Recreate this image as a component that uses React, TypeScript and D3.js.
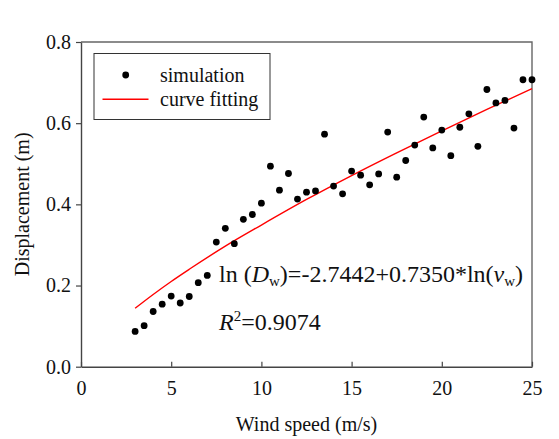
import React, { useEffect, useRef } from 'react';
import * as d3 from 'd3';

// simulation points (wind speed m/s, displacement m)
const windSpeed = [
  3, 3.5, 4, 4.5, 5, 5.5, 6, 6.5, 7, 7.5, 8, 8.5, 9, 9.5, 10, 10.5, 11, 11.5, 12, 12.5,
  13, 13.5, 14, 14.5, 15, 15.5, 16, 16.5, 17, 17.5, 18, 18.5, 19, 19.5, 20, 20.5, 21, 21.5,
  22, 22.5, 23, 23.5, 24, 24.5, 25,
];
const displacement = [
  0.087, 0.101, 0.136, 0.154, 0.174, 0.157, 0.173, 0.207, 0.225, 0.307, 0.341, 0.303, 0.363,
  0.375, 0.403, 0.494, 0.435, 0.476, 0.413, 0.43, 0.433, 0.573, 0.445, 0.426, 0.482, 0.472,
  0.448, 0.475, 0.578, 0.467, 0.508, 0.546, 0.615, 0.539, 0.583, 0.52, 0.59, 0.623, 0.543,
  0.683, 0.65, 0.656, 0.588, 0.707, 0.707,
];

// fitted curve
const fitSpeed = [3, 4, 5, 6, 8, 10, 12.5, 15, 17.5, 20, 22.5, 25];
const fitDisp = [0.144, 0.178, 0.21, 0.24, 0.297, 0.349, 0.412, 0.471, 0.527, 0.581, 0.634, 0.685];

const xTicks = [0, 5, 10, 15, 20, 25];
const yTicks = [0, 0.2, 0.4, 0.6, 0.8];

const FONT = '"Liberation Serif", "Times New Roman", serif';

export default function App() {
  const ref = useRef<SVGSVGElement>(null);

  useEffect(() => {
    const svg = d3.select(ref.current);
    svg.selectAll('*').remove();

    const left = 81, right = 532, top = 42, bottom = 366.7;
    const x = d3.scaleLinear().domain([0, 25]).range([left, right]);
    const y = d3.scaleLinear().domain([0, 0.8]).range([bottom, top]);

    svg.append('rect').attr('width', 559).attr('height', 439).attr('fill', '#fff');

    // frame top / right
    svg.append('path')
      .attr('d', `M${left},${top}H${right}V${bottom}`)
      .attr('fill', 'none').attr('stroke', '#666').attr('stroke-width', 1.4);

    const xAxis = svg.append('g')
      .attr('transform', `translate(0,${bottom})`)
      .call(d3.axisBottom(x).tickValues(xTicks).tickSizeInner(-5).tickSizeOuter(0).tickPadding(14).tickFormat(d3.format('d')));
    const yAxis = svg.append('g')
      .attr('transform', `translate(${left},0)`)
      .call(d3.axisLeft(y).tickValues(yTicks).tickSize(5).tickSizeOuter(0).tickPadding(5).tickFormat(d3.format('.1f')));

    [xAxis, yAxis].forEach(g => {
      g.attr('font-family', FONT).attr('font-size', 20);
      g.select('.domain').attr('stroke', '#444').attr('stroke-width', 1.4);
      g.selectAll('.tick line').attr('stroke', '#444').attr('stroke-width', 1.2);
      g.selectAll('.tick text').attr('fill', '#111').style('font-family', FONT).style('font-size', '20px');
    });

    // fitted curve
    const line = d3.line<number>()
      .x((_, i) => x(fitSpeed[i]))
      .y(d => y(d))
      .curve(d3.curveMonotoneX);
    svg.append('path')
      .datum(fitDisp)
      .attr('d', line)
      .attr('fill', 'none')
      .attr('stroke', '#f00')
      .attr('stroke-width', 1.4);

    // points
    svg.append('g').selectAll('circle')
      .data(displacement)
      .enter()
      .append('circle')
      .attr('cx', (_, i) => x(windSpeed[i]))
      .attr('cy', d => y(d))
      .attr('r', 3.4)
      .attr('fill', '#000');

    // legend
    const lg = svg.append('g');
    lg.append('rect')
      .attr('x', 94).attr('y', 53.5).attr('width', 176).attr('height', 66)
      .attr('fill', '#fff').attr('stroke', '#333').attr('stroke-width', 1);
    lg.append('circle').attr('cx', 125.7).attr('cy', 75).attr('r', 3.4).attr('fill', '#000');
    lg.append('line').attr('x1', 102.5).attr('x2', 148.5).attr('y1', 99.3).attr('y2', 99.3)
      .attr('stroke', '#f00').attr('stroke-width', 1.4);
    const lgText = [['simulation', 81.5], ['curve fitting', 105.5]] as const;
    lgText.forEach(([t, yy]) => {
      lg.append('text').attr('x', 160).attr('y', yy).text(t)
        .attr('fill', '#111').style('font-family', FONT).style('font-size', '20px');
    });

    // axis titles
    svg.append('text')
      .attr('transform', `translate(29,${(top + bottom) / 2}) rotate(-90)`)
      .attr('text-anchor', 'middle')
      .attr('fill', '#111').style('font-family', FONT).style('font-size', '20px')
      .text('Displacement (m)');
    svg.append('text')
      .attr('x', (left + right) / 2).attr('y', 430.5)
      .attr('text-anchor', 'middle')
      .attr('fill', '#111').style('font-family', FONT).style('font-size', '20px')
      .text('Wind speed (m/s)');

    // equation
    const eq = svg.append('text').attr('x', 219).attr('y', 281.5)
      .attr('fill', '#111').style('font-family', FONT).style('font-size', '24px');
    eq.append('tspan').text('ln (');
    eq.append('tspan').attr('font-style', 'italic').text('D');
    eq.append('tspan').attr('font-size', '15px').attr('dy', 4).text('w');
    eq.append('tspan').attr('dy', -4).text(')=-2.7442+0.7350*ln(');
    eq.append('tspan').attr('font-style', 'italic').text('v');
    eq.append('tspan').attr('font-size', '15px').attr('dy', 4).text('w');
    eq.append('tspan').attr('dy', -4).text(')');

    const r2 = svg.append('text').attr('x', 219).attr('y', 330)
      .attr('fill', '#111').style('font-family', FONT).style('font-size', '24px');
    r2.append('tspan').attr('font-style', 'italic').text('R');
    r2.append('tspan').attr('font-size', '15px').attr('dy', -9).text('2');
    r2.append('tspan').attr('dy', 9).text('=0.9074');
  }, []);

  return (
    <svg ref={ref} width={559} height={439}
      style={{ position: 'absolute', left: 0, top: 0, display: 'block' }} />
  );
}
